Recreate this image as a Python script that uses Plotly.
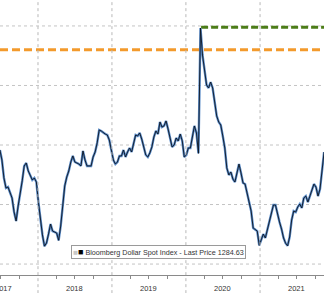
import pandas as pd
import plotly.graph_objects as go

# ---- data ----
START_DATE = "2017-06-27"
STEP = "10D"
dxy_values = [
    1195.8, 1187.4, 1172.3, 1163.9, 1164.7, 1160.5, 1155.5, 1143.7, 1136.1, 1148.7,
    1158.0, 1169.8, 1182.4, 1184.9, 1178.2, 1174.8, 1170.6, 1172.3, 1168.9, 1152.1,
    1137.8, 1124.4, 1115.0, 1117.7, 1125.2, 1133.6, 1127.7, 1126.9, 1126.1, 1119.9,
    1131.9, 1148.7, 1165.6, 1173.1, 1178.2, 1185.7, 1190.8, 1185.7, 1184.9, 1184.0,
    1182.4, 1195.0, 1187.4, 1182.4, 1182.4, 1182.4, 1189.9, 1194.1, 1201.7, 1212.6,
    1211.8, 1210.1, 1209.2, 1208.4, 1204.2, 1195.8, 1187.4, 1184.0, 1185.7, 1190.8,
    1190.8, 1195.8, 1189.9, 1194.1, 1197.5, 1194.1, 1201.7, 1208.4, 1207.6, 1210.1,
    1205.0, 1197.5, 1191.6, 1189.9, 1193.3, 1198.3, 1206.7, 1211.8, 1209.2, 1219.3,
    1215.1, 1216.0, 1220.2, 1213.4, 1205.9, 1198.3, 1200.0, 1205.9, 1203.4, 1209.2,
    1203.4, 1189.9, 1191.6, 1197.5, 1197.5, 1205.9, 1216.0, 1210.1, 1193.0, 1298.3,
    1275.6, 1263.0, 1250.4, 1247.9, 1252.9, 1247.9, 1233.6, 1224.4, 1219.3, 1216.8,
    1207.6, 1197.5, 1180.7, 1174.8, 1177.3, 1171.4, 1168.9, 1176.5, 1184.0, 1176.5,
    1168.1, 1167.2, 1158.8, 1150.4, 1144.5, 1130.3, 1128.6, 1127.7, 1115.7, 1121.0,
    1125.2, 1121.9, 1128.6, 1136.1, 1142.0, 1149.6, 1149.6, 1141.2, 1135.3, 1129.4,
    1121.9, 1117.5, 1115.3, 1122.7, 1137.0, 1144.5, 1143.7, 1147.9, 1150.4, 1147.1,
    1155.5, 1157.1, 1152.1, 1157.1, 1161.4, 1167.2, 1164.7, 1157.1, 1163.0, 1177.3,
    1194.1,
]
dates = pd.date_range(START_DATE, periods=len(dxy_values), freq=STEP)

PEAK_DATE = "2020-03-16"
PEAK_LEVEL = 1299.0
REF_LEVEL = 1280.0
LAST_PRICE = "1284.63"
years = [2017, 2018, 2019, 2020, 2021]
year_label_dates = ["2017-07-14", "2018-07-02", "2019-07-02", "2020-07-02", "2021-07-02"]
y_grid = [1100, 1150, 1200, 1250, 1300]

X_RANGE = ["2017-06-27 12:00", "2021-11-12 14:00"]
Y_RANGE = [1090.8, 1321.8]

FONT = "Liberation Sans, Arial, sans-serif"

fig = go.Figure()

# orange reference level (full width)
fig.add_trace(go.Scatter(x=X_RANGE, y=[REF_LEVEL, REF_LEVEL], mode="lines",
                         line=dict(color="#f39a2c", width=3, dash="8px,4px"),
                         hoverinfo="skip", showlegend=False))
# green peak level
fig.add_trace(go.Scatter(x=[PEAK_DATE, X_RANGE[1]], y=[PEAK_LEVEL, PEAK_LEVEL], mode="lines",
                         line=dict(color="#4c7d18", width=3, dash="7px,3px"),
                         hoverinfo="skip", showlegend=False))
# series: blue halo + dark line
fig.add_trace(go.Scatter(x=dates, y=dxy_values, mode="lines",
                         line=dict(color="#5b8cc8", width=2.4),
                         hoverinfo="skip", showlegend=False))
fig.add_trace(go.Scatter(x=dates, y=dxy_values, mode="lines",
                         line=dict(color="#0c1420", width=0.9),
                         showlegend=False))

# year boundary lines (extend below axis)
shapes = []
for yr in years[1:]:
    shapes.append(dict(type="line", xref="x", yref="paper",
                       x0=f"{yr}-01-01", x1=f"{yr}-01-01", y0=-0.066, y1=1,
                       line=dict(color="#b8b8b8", width=1, dash="dot")))
# horizontal grid
for g in y_grid:
    shapes.append(dict(type="line", xref="paper", yref="y", x0=0, x1=1, y0=g, y1=g,
                       line=dict(color="#c4c4c4", width=1, dash="dot"), layer="below"))

annotations = [dict(
    xref="paper", yref="paper", x=71 / 324, y=(275 - 244.5) / 275,
    xanchor="left", yanchor="top", showarrow=False, align="left",
    text=('<span style="color:#c8c8c8;font-size:8px">■</span>'
          '<span style="color:#000;font-size:9px">■</span> '
          f'Bloomberg Dollar Spot Index - Last Price {LAST_PRICE}'),
    font=dict(family=FONT, size=7.2, color="#333"),
    bordercolor="#9a9a9a", borderwidth=1, borderpad=1.2, bgcolor="white",
)]
for yr, d in zip(years, year_label_dates):
    annotations.append(dict(xref="x", yref="paper", x=d, y=(275 - 288) / 275,
                            xanchor="center", yanchor="middle", showarrow=False,
                            text=str(yr), font=dict(family=FONT, size=7.5, color="#333")))

fig.update_layout(
    width=324, height=293,
    margin=dict(l=0, r=0, t=0, b=18),
    paper_bgcolor="white", plot_bgcolor="white",
    shapes=shapes, annotations=annotations,
    xaxis=dict(range=X_RANGE, showgrid=False, zeroline=False,
               showticklabels=False, ticks="",
               showline=True, linecolor="#8a8a8a", linewidth=1,
               minor=dict(tickmode="linear", tick0="2017-01-01", dtick="M3",
                          ticks="outside", ticklen=3, tickcolor="#8a8a8a")),
    yaxis=dict(range=Y_RANGE, showgrid=False, zeroline=False, showticklabels=False,
               ticks=""),
)

fig.write_html("out.html")
